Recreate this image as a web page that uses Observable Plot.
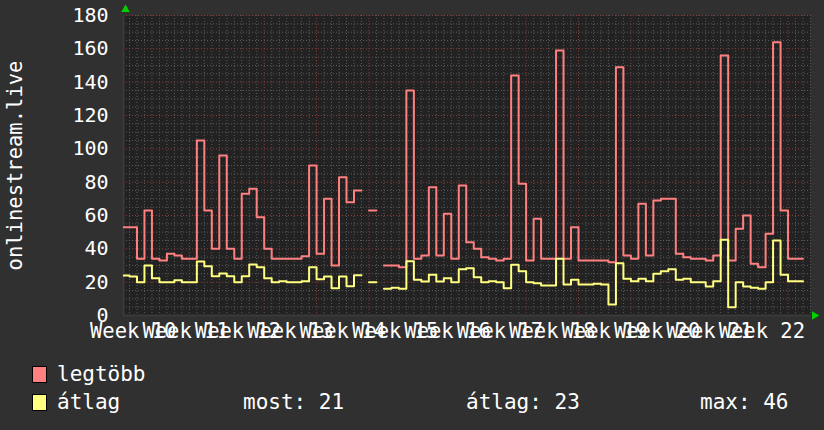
<!DOCTYPE html>
<html>
<head>
<meta charset="utf-8">
<script src="https://cdn.jsdelivr.net/npm/d3@7"></script>
<script src="https://cdn.jsdelivr.net/npm/@observablehq/plot@0.6"></script>
<style>
  html, body { margin: 0; padding: 0; background: #303030; }
  #wrap { position: relative; width: 824px; height: 430px; background: #303030; overflow: hidden;
          font-family: "DejaVu Sans Mono", monospace; color: #fff; }
  #legend { position: relative; height: 80px; font-size: 21px; }
  .row { position: absolute; left: 0; height: 24px; line-height: 24px; white-space: pre; }
  .sw { position: absolute; left: 32px; top: 4px; width: 13px; height: 15px; border: 1px solid #000; }
  .lab { position: absolute; }
</style>
</head>
<body>
<div id="wrap">
  <div id="chart"></div>
  <div id="legend"></div>
</div>
<script>
// ---- data (one value per day, counted from Monday of week 10) ----
const startDay = 2;
const weeks = [10, 11, 12, 13, 14, 15, 16, 17, 18, 19, 20, 21, 22];
const yTicks = [0, 20, 40, 60, 80, 100, 120, 140, 160, 180];
const seriesNames = ["legtöbb", "átlag"];
const seriesColors = ["#ff8080", "#ffff80"];
const yLabel = "onlinestream.live";
const statLabels = ["most: 21", "átlag: 23", "max: 46"];

const legtobb = [
  53, 53, 34, 63, 34, 33, 37, 36, 34, 34,
  105, 63, 40, 96, 40, 34, 73, 76, 59, 40,
  34, 34, 34, 34, 35.5, 90, 37, 70, 30, 83,
  68, 75, null, 63, null, 30, 30, 29, 135, 34,
  36, 77, 36, 61, 34, 78, 44, 40, 35, 34,
  33, 34, 144, 79, 33, 58, 34, 34, 159, 34,
  53, 33, 33, 33, 33, 32, 149, 36, 34, 67,
  36, 69, 70, 70, 37, 35, 34, 34, 33, 36,
  156, 33, 52, 60, 31, 29, 49, 164, 63, 34, 34
];
const atlag = [
  24, 23.4, 20, 30, 22.4, 20, 20, 21.2, 20, 20,
  32.4, 29.6, 23.6, 25.2, 23.6, 20, 23.6, 30.6, 29, 22.4,
  20, 20.6, 20, 20, 20.6, 29, 21.8, 23.4, 16.4, 23.4,
  17.6, 24.2, null, 20, null, 16, 16.6, 16, 32.6, 21.4,
  20.4, 24.4, 20.4, 22.4, 20, 27.8, 28.4, 23, 20, 20.6,
  20, 16.4, 30.4, 26.6, 20, 19.4, 18, 18, 34, 18.6,
  21.4, 18.6, 18.6, 19, 18.6, 6.6, 31.4, 22, 20.6, 22,
  20.6, 25, 26.6, 27.8, 21.4, 22, 20, 20, 17.4, 20.6,
  45.4, 5, 20, 17.4, 16.6, 16, 20, 45, 24.4, 20.6, 20.6
];

const xDomain = [2.2, 94];
const yDomain = [0, 180];

// build step paths from daily values
function steps(vals) {
  const out = [];
  vals.forEach((v, i) => {
    const d = startDay + i;
    if (v == null) out.push({x: d + 0.5, y: NaN});
    else { out.push({x: d, y: v}); out.push({x: d + 1, y: v}); }
  });
  return out;
}

const minorX = d3.range(Math.ceil(xDomain[0]), xDomain[1] + 0.001, 1);
const majorX = minorX.filter(d => d % 7 === 0);
const minorY = d3.range(yDomain[0], yDomain[1] + 0.001, 5);

const chart = Plot.plot({
  width: 824,
  height: 350,
  marginLeft: 123,
  marginRight: 14,
  marginTop: 15,
  marginBottom: 35,
  style: {background: "#303030", color: "#ffffff", fontFamily: "'DejaVu Sans Mono', monospace", fontSize: "20px", overflow: "visible"},
  x: {domain: xDomain, axis: null},
  y: {domain: yDomain, ticks: yTicks, tickSize: 0, tickPadding: 15, label: null},
  marks: [
    Plot.frame({fill: "#222222", stroke: null}),
    Plot.ruleX(minorX.filter(d => d % 7 !== 0), {stroke: "#5a5a5a", strokeWidth: 1, strokeDasharray: "1,2"}),
    Plot.ruleY(minorY.filter(d => d % 20 !== 0), {stroke: "#5a5a5a", strokeWidth: 1, strokeDasharray: "1,2"}),
    Plot.ruleX(majorX, {stroke: "#8a3c3c", strokeWidth: 1, strokeDasharray: "1,2"}),
    Plot.ruleY(yTicks, {stroke: "#8a3c3c", strokeWidth: 1, strokeDasharray: "1,2"}),
    Plot.ruleX([xDomain[0]], {stroke: "#3a3a3a", strokeWidth: 2}),
    Plot.ruleY([0], {stroke: "#3a3a3a", strokeWidth: 2}),
    Plot.line(steps(legtobb), {x: "x", y: "y", stroke: seriesColors[0], strokeWidth: 2, clip: true}),
    Plot.line(steps(atlag), {x: "x", y: "y", stroke: seriesColors[1], strokeWidth: 2, clip: true}),
    Plot.text(weeks, {x: w => (w - weeks[0]) * 7 + 3.5, y: () => 0, text: w => "Week " + w,
      fill: "#ffffff", dy: 16, lineAnchor: "middle", fontSize: 20.5}),
    Plot.text([yLabel], {frameAnchor: "left", textAnchor: "middle", rotate: -90, dx: -108, text: d => d, fill: "#ffffff", fontSize: 20.5}),
    Plot.dot([xDomain[0]], {x: d => d, y: () => yDomain[1], symbol: "triangle", r: 3.2, fill: "#00d000", dx: 2, dy: -6}),
    Plot.dot([xDomain[1]], {x: d => d, y: () => yDomain[0], symbol: "triangle", r: 3.2, fill: "#00d000", rotate: 90, dx: 4})
  ]
});
document.getElementById("chart").appendChild(chart);

// legend
const legend = document.getElementById("legend");
const rowTops = [12, 40];
seriesNames.forEach((name, i) => {
  const row = document.createElement("div");
  row.className = "row";
  row.style.top = rowTops[i] + "px";
  row.style.width = "824px";
  const sw = document.createElement("div");
  sw.className = "sw";
  sw.style.background = seriesColors[i];
  row.appendChild(sw);
  const lab = document.createElement("div");
  lab.className = "lab";
  lab.style.left = "57px";
  lab.textContent = name;
  row.appendChild(lab);
  if (i === 1) {
    const lefts = [243, 466, 700];
    statLabels.forEach((s, j) => {
      const t = document.createElement("div");
      t.className = "lab";
      t.style.left = lefts[j] + "px";
      t.textContent = s;
      row.appendChild(t);
    });
  }
  legend.appendChild(row);
});
</script>
</body>
</html>
